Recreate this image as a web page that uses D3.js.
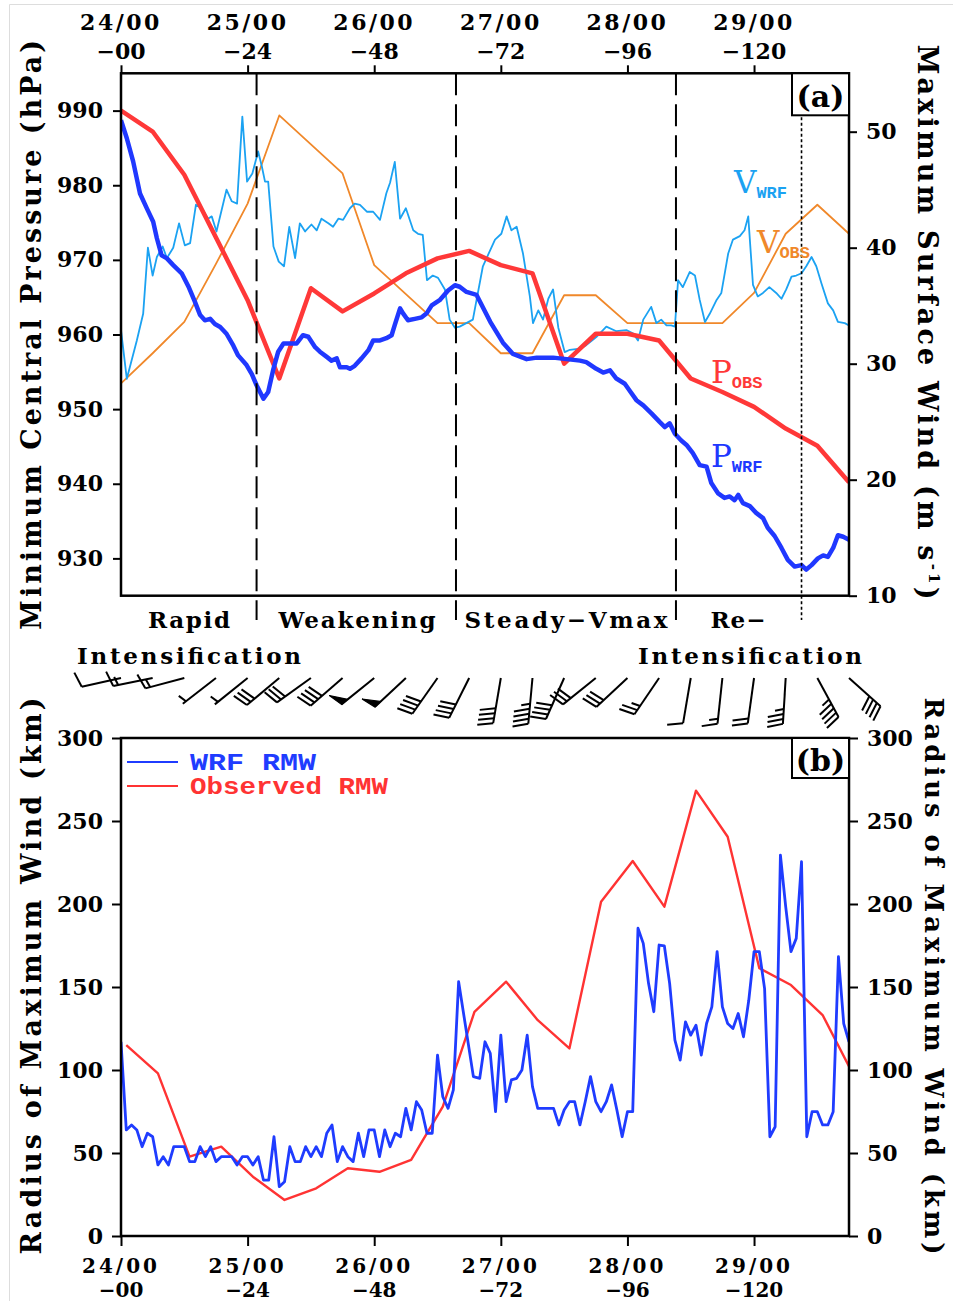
<!DOCTYPE html>
<html><head><meta charset="utf-8">
<script src="https://cdn.jsdelivr.net/npm/d3@7"></script>
<style>
body{margin:0;background:#fff}
svg{display:block}
</style></head><body>
<svg id="c" width="953" height="1301"></svg>
<script>
// ---------------- DATA ----------------
const tickHours   = [0,24,48,72,96,120];
const dateLabels  = ["24/00","25/00","26/00","27/00","28/00","29/00"];
const leadLabels  = ["\u221200","\u221224","\u221248","\u221272","\u221296","\u2212120"];
const pTicks = [930,940,950,960,970,980,990];
const vTicks = [10,20,30,40,50];
const rTicks = [0,50,100,150,200,250,300];
const phaseBounds = [25.7,63.5,105.2];
const reIntensHour = 129;

// 6-hourly observations (panel a)
const obsHours = [0,6,12,18,24,30,36,42,48,54,60,66,72,78,84,90,96,102,108,114,120,126,132,138];
const pObs = [990,987.2,981.4,973,964.6,954.1,966.2,963.1,965.5,968.2,970.2,971.2,969.3,968.2,956.1,960.1,960.1,959.2,954.1,952.3,950.3,947.4,945.1,940.2];
const vObs = [28.3,30.9,33.6,38.6,43.8,51.4,48.9,46.4,38.5,36,33.5,33.5,30.9,30.9,35.9,35.9,33.5,33.5,33.5,33.5,36.1,41.2,43.7,41.2];

// WRF minimum central pressure [hour, hPa]
const pWrf = [[0,988.7],[1.1,986.3],[2.3,983.2],[3.6,978.9],[4.9,976.9],[6.1,975.1],[6.8,972.9],[7.7,970.6],[8.7,970.2],[9.9,969.3],[11.5,968.2],[12.8,966.4],[14,964.4],[15,962.6],[15.9,961.9],[16.9,962.1],[17.8,961.4],[18.8,961],[20,960.1],[21.3,958.5],[22.2,957.2],[23.8,955.9],[24.8,954.7],[25.7,953.2],[27,951.4],[27.9,952.3],[28.9,955.4],[29.8,957.7],[30.8,958.8],[32,958.8],[33.3,958.8],[34.5,959.9],[35.5,959.7],[36.8,958.3],[37.7,957.7],[39,957],[39.9,956.5],[40.9,956.8],[41.5,955.6],[42.8,955.6],[43.4,955.4],[44.3,955.8],[45.6,956.8],[46.9,957.9],[47.8,959.2],[49.1,959.2],[50.3,959.5],[51.3,959.9],[51.9,961.3],[52.9,963.5],[53.5,962.8],[54.4,961.9],[55.7,962.1],[57,962.3],[57.9,962.8],[58.9,963.9],[60.4,964.6],[62,965.9],[63.3,966.6],[64.2,966.4],[65.5,965.7],[67.4,965.3],[70,961.7],[72.4,958.9],[74.3,957.4],[76.9,956.7],[78.8,956.9],[81.9,956.9],[84.5,956.7],[87,956.5],[88.2,956.3],[90.1,955.4],[91.4,954.9],[92.7,955.2],[93.9,954.1],[95.5,953.4],[96.4,952.5],[97.7,951.2],[99,950.5],[100.6,949.4],[102.1,948.3],[103.1,947.6],[104,948.1],[105,946.7],[106.2,945.8],[107.2,945.2],[108.4,944.1],[109.7,942.5],[111,942.3],[111.9,940.1],[113.2,938.7],[114.4,938.1],[115.4,938.3],[116.3,937.8],[117,938.5],[117.9,937.4],[119.2,937],[120.4,936.1],[121.7,935.4],[122.6,934.1],[123.9,933],[125.2,931.4],[126.4,929.8],[127.7,928.9],[129,929.1],[129.9,928.5],[130.9,929.1],[132.1,930],[133.1,930.4],[134,930.2],[135,931.4],[135.9,933.1],[136.9,932.9],[138,932.5]];

// WRF maximum surface wind [hour, m/s]
const vWrf = [[0,32.9],[1.1,28.7],[3,32],[4.2,34.3],[5.1,40],[6,37.6],[6.8,39.2],[7.9,40.1],[8.7,39.1],[9.9,40],[11,42.1],[12.1,40.2],[13.1,40.4],[14.2,43.7],[15.3,43.4],[16.5,42.5],[17.2,42.7],[18.1,41.4],[20,45],[21,44],[22,43.8],[23,51.3],[23.9,45.7],[24.9,46.4],[26,48.3],[26.7,47],[27.3,45.7],[27.9,45.7],[28.9,40.1],[29.9,38.8],[30.9,38.4],[31.9,41.8],[33,39.1],[33.9,42.1],[34.9,41.4],[36.1,42],[37.1,41.5],[38,42.5],[39.3,42.1],[40.2,41.8],[41.2,42.5],[42.1,42.4],[43.4,43.4],[44.3,43.8],[45.3,43.7],[46.6,43.1],[47.8,43.1],[49.1,42.4],[50.3,44.7],[51,45.6],[51.9,47.4],[52.9,42.5],[54,43.4],[55.4,41.5],[56.3,41.2],[57.2,41.1],[58,37.2],[59.1,37.6],[60.1,37.4],[61.4,36.4],[62.3,33.8],[63.3,33.1],[64.2,33.2],[66.7,33.8],[68.6,38.4],[70.9,40.7],[72.1,41.2],[73.1,42.7],[74,41.5],[75,41.8],[76.2,39.5],[77.5,35.8],[78.1,33.5],[79.1,34.6],[80,33.8],[81,35.6],[81.9,36.4],[82.9,33.1],[84.1,31],[85.1,31.2],[87,31.3],[88.2,31.6],[90.1,32.3],[92,33.2],[93.9,32.8],[95.8,32.9],[97.1,32.6],[98,32],[99,33.8],[100.5,34.9],[101.5,33.5],[102.4,33.8],[103.4,33.3],[104.3,33.3],[105,33.2],[105.6,37.2],[106.5,36.6],[107.8,37.9],[108.8,37.6],[109.7,35.5],[110.7,33.6],[111.6,34.3],[112.9,35.5],[113.8,36.1],[115.1,39.5],[116,40.7],[117.3,41],[118.2,41.5],[118.9,42.7],[119.8,36.8],[120.7,35.8],[121.7,36.1],[122.9,36.6],[124.2,36.1],[125.2,35.6],[126.1,36.4],[127.1,37.5],[128,37.6],[129,37.8],[129.9,38.4],[130.9,39.2],[131.8,38.4],[132.8,36.9],[134,35.2],[135,34.6],[135.9,33.6],[137.2,33.5],[138,33.3]];

// Panel b: radius of maximum wind
const rmwWrf = [[0,117],[1,63.9],[2,66.9],[3,63.9],[4,53.8],[5,61.9],[6,59.8],[7,42.8],[8,47.8],[9,42.8],[10,53.8],[12,53.8],[13,44.8],[14,44.8],[15,53.8],[16,47.8],[17,53.8],[18,44.8],[19,47.8],[21,47.8],[22,42.8],[23,47.8],[24,47.8],[25,42.8],[26,47.8],[27,33.7],[28,33.7],[29,59.8],[30,29.7],[31,32.7],[32,53.8],[33,44.8],[34,44.8],[35,53.8],[36,47.8],[37,53.8],[38,47.8],[39,61.9],[40,66.9],[41,44.8],[42,53.8],[43,47.8],[44,44.8],[45,61.9],[46,47.8],[47,63.9],[48,63.9],[49,47.8],[50,63.9],[51,53.8],[52,61.9],[53,59.8],[54,76.9],[55,63.9],[56,80.9],[57,75.9],[58,61.9],[59,61.9],[60,109],[61,83.9],[62,76.9],[63,88],[64,153.2],[66.8,96],[68,95],[69,117],[70,110],[71,74.9],[72,121],[73,80.9],[74,94],[75,95],[76,100],[77,121],[78,90],[79,76.9],[80,76.9],[81,76.9],[82,76.9],[83,66.9],[84,75.9],[85,80.9],[86,80.9],[87,66.9],[88,80.9],[89,96],[90,80.9],[91,74.9],[92,80.9],[93,91],[94,75.9],[95,59.8],[96,74.9],[97,74.9],[98,185.4],[99,176.3],[100,152.2],[101,135.1],[102,175.3],[103,174.7],[104,152.2],[105,118],[106,106],[107,129],[108,121],[109,127],[110,109],[111,128],[112,138],[113,171.3],[114,138],[115,128],[116,125],[117,134],[118,120],[119,142],[120,171.3],[121,171.3],[122,149],[123,59.8],[124,65.8],[125,229.5],[126,198.4],[127,171.3],[128,179.3],[129,225.5],[130,59.8],[131,74.9],[132,74.9],[133,66.9],[134,66.9],[135,74.9],[136,168.3],[137,128],[138,117]];
const rmwObsHours = [1,7,13,19,25,31,37,43,49,55,61,67,73,79,85,91,97,103,109,115,121,127,133,139];
const rmwObs = [115,98,47.8,53.8,35.7,21.7,28.7,40.8,38.7,45.8,77.9,135,153.2,130,113,201.4,225.9,198.4,268.3,240.5,161.3,151.2,133.1,96];

// wind barbs (6-hourly): direction wind comes from (deg), speed (kt)
const barbHours = [0,6,12,18,24,30,36,42,48,54,60,66,72,78,84,90,96,102,108,114,120,126,132,138];
const barbDir = [259,260,257,236,235,234,238,233,235,231,219,210,191,186,207,235,231,218,191,187,189,184,148,128];
const barbSpd = [10,15,15,5,5,30,30,40,50,50,40,40,40,45,40,30,30,25,10,15,20,35,45,40];

const phaseTop = ["Rapid","Weakening","Steady\u2212Vmax","Re\u2212"];
const phaseBottom = ["Intensification","Intensification"];

// ---------------- CHART ----------------
const SERIF = "DejaVu Serif";
const MONO = "Liberation Mono";
const svg = d3.select("#c");

// faint outer border of the original figure
svg.append("line").attr("x1",9.5).attr("x2",953).attr("y1",4.5).attr("y2",4.5).attr("stroke","#ddd");
svg.append("line").attr("x1",9.5).attr("x2",9.5).attr("y1",4.5).attr("y2",1301).attr("stroke","#ddd");

const x  = d3.scaleLinear().domain([0,138]).range([121,849]);
const yP = d3.scaleLinear().domain([925,995]).range([595.7,73.3]);
const yV = d3.scaleLinear().domain([10,55]).range([595.7,73.7]);
const yR = d3.scaleLinear().domain([0,300]).range([1236,738]);

const defs = svg.append("defs");
defs.append("clipPath").attr("id","clipA").append("rect")
  .attr("x",x(0)).attr("y",yP(995)).attr("width",x(138)-x(0)).attr("height",yP(925)-yP(995));
defs.append("clipPath").attr("id","clipB").append("rect")
  .attr("x",x(0)).attr("y",yR(300)).attr("width",x(138)-x(0)).attr("height",yR(0)-yR(300));

const zip = (h,v) => h.map((t,i)=>[t,v[i]]);

// ---- Panel (a) ----
const gA = svg.append("g").attr("clip-path","url(#clipA)");
const lineP = d3.line().x(d=>x(d[0])).y(d=>yP(d[1]));
const lineV = d3.line().x(d=>x(d[0])).y(d=>yV(d[1]));

gA.append("path").datum(zip(obsHours,vObs)).attr("d",lineV)
  .attr("fill","none").attr("stroke","#f0882a").attr("stroke-width",1.8).attr("stroke-linejoin","round");
gA.append("path").datum(vWrf).attr("d",lineV)
  .attr("fill","none").attr("stroke","#1ba2f2").attr("stroke-width",1.8).attr("stroke-linejoin","round");
gA.append("path").datum(zip(obsHours,pObs)).attr("d",lineP)
  .attr("fill","none").attr("stroke","#ff3838").attr("stroke-width",4.5).attr("stroke-linejoin","round");
gA.append("path").datum(pWrf).attr("d",lineP)
  .attr("fill","none").attr("stroke","#2038ff").attr("stroke-width",4.5).attr("stroke-linejoin","round");

// phase separators
svg.selectAll(".phase").data(phaseBounds).join("line")
  .attr("x1",d=>x(d)).attr("x2",d=>x(d)).attr("y1",yP(995)).attr("y2",620)
  .attr("stroke","#000").attr("stroke-width",2).attr("stroke-dasharray","22,9");
svg.append("line").attr("x1",x(reIntensHour)).attr("x2",x(reIntensHour))
  .attr("y1",yP(995)).attr("y2",620).attr("stroke","#000").attr("stroke-width",1.6).attr("stroke-dasharray","3,2.5");

// frame a
svg.append("rect").attr("x",x(0)).attr("y",yP(995)).attr("width",x(138)-x(0)).attr("height",yP(925)-yP(995))
  .attr("fill","none").attr("stroke","#000").attr("stroke-width",2.5);

function styleAxis(g){
  g.select(".domain").remove();
  g.attr("font-family",SERIF).attr("font-size",22).attr("font-weight","bold");
  g.selectAll(".tick line").attr("stroke","#000").attr("stroke-width",2);
  g.selectAll(".tick text").attr("fill","#000");
}
svg.append("g").attr("transform",`translate(${x(0)},0)`)
  .call(d3.axisLeft(yP).tickValues(pTicks).tickSize(8).tickPadding(10).tickFormat(d3.format("d"))).call(styleAxis);
svg.append("g").attr("transform",`translate(${x(138)},0)`)
  .call(d3.axisRight(yV).tickValues(vTicks).tickSize(8).tickPadding(9).tickFormat(d3.format("d"))).call(styleAxis);
svg.append("g").attr("transform",`translate(0,${yP(995)})`)
  .call(d3.axisTop(x).tickValues(tickHours).tickSize(8).tickFormat("")).call(styleAxis);

// top time labels
const topLab = svg.append("g").attr("font-family",SERIF).attr("font-weight","bold").attr("font-size",22).attr("text-anchor","middle");
topLab.selectAll(".d").data(tickHours).join("text").attr("x",d=>x(d)).attr("y",30)
  .attr("letter-spacing",2.5).text((d,i)=>dateLabels[i]);
topLab.selectAll(".l").data(tickHours).join("text").attr("x",d=>x(d)).attr("y",59).text((d,i)=>leadLabels[i]);

// axis titles a
svg.append("text").attr("transform","translate(41,335) rotate(-90)")
  .attr("text-anchor","middle").attr("font-family",SERIF).attr("font-weight","bold").attr("font-size",27)
  .attr("textLength",590).attr("lengthAdjust","spacing").text("Minimum Central Pressure (hPa)");
const rt = svg.append("text").attr("transform","translate(918,322) rotate(90)")
  .attr("text-anchor","middle").attr("font-family",SERIF).attr("font-weight","bold").attr("font-size",27)
  .attr("textLength",555).attr("lengthAdjust","spacing");
rt.append("tspan").text("Maximum Surface Wind (m s");
rt.append("tspan").attr("font-size",15).attr("dy",-11).text("-1");
rt.append("tspan").attr("dy",11).text(")");

// (a) box
svg.append("rect").attr("x",792).attr("y",yP(995)).attr("width",x(138)-792).attr("height",42)
  .attr("fill","#fff").attr("stroke","#000").attr("stroke-width",2);
svg.append("text").attr("x",820.5).attr("y",107).attr("text-anchor","middle").attr("font-family",SERIF)
  .attr("font-size",30).attr("font-weight","bold").text("(a)");

// series labels
function seriesLabel(main, sub, xx, yy, col){
  const t = svg.append("text").attr("x",xx).attr("y",yy).attr("fill",col).attr("font-family",SERIF).attr("font-size",31);
  t.append("tspan").text(main);
  t.append("tspan").attr("font-family",MONO).attr("font-weight","bold").attr("font-size",17).attr("dy",5).text(sub);
}
seriesLabel("V","WRF",734,193,"#1ba2f2");
seriesLabel("V","OBS",757,253,"#f0882a");
seriesLabel("P","OBS",711,383,"#ff3838");
seriesLabel("P","WRF",711,467,"#2038ff");

// phase labels
const phaseX = [189,357,566,738];
const phaseW = [82,157,203,55];
svg.selectAll(".pt").data(phaseTop).join("text").attr("x",(d,i)=>phaseX[i]).attr("y",628)
  .attr("text-anchor","middle").attr("font-family",SERIF).attr("font-weight","bold").attr("font-size",23)
  .attr("textLength",(d,i)=>phaseW[i]).attr("lengthAdjust","spacing").text(d=>d);
const intX = [189,750];
svg.selectAll(".pb").data(phaseBottom).join("text").attr("x",(d,i)=>intX[i]).attr("y",664)
  .attr("text-anchor","middle").attr("font-family",SERIF).attr("font-weight","bold").attr("font-size",23)
  .attr("textLength",224).attr("lengthAdjust","spacing").text(d=>d);

// ---- wind barbs ----
const gBarb = svg.append("g").attr("stroke","#000").attr("stroke-width",2).attr("fill","#000").attr("stroke-linecap","butt");
const barbY = 678, L = 40, K = 1.15;
barbHours.forEach((h,i)=>{
  const x0 = x(h), y0 = barbY;
  const r = barbDir[i]*Math.PI/180;
  const vx = L*Math.sin(r), vy = -L*Math.cos(r)*K;
  const len = Math.hypot(vx,vy);
  const sx = vx/len, sy = vy/len;
  const tx = x0+vx, ty = y0+vy;
  const fa = Math.atan2(sy,sx) + 75*Math.PI/180;
  const fx = Math.cos(fa), fy = Math.sin(fa);
  let spd = barbSpd[i];
  const n50 = Math.floor(spd/50); spd -= n50*50;
  const n10 = Math.floor(spd/10); spd -= n10*10;
  const n5 = spd>=5 ? 1 : 0;
  gBarb.append("line").attr("x1",x0).attr("y1",y0).attr("x2",tx).attr("y2",ty);
  let pos = 0;
  const pt = p => [tx - sx*p, ty - sy*p];
  for(let k=0;k<n50;k++){
    const a = pt(pos), b = pt(pos+8);
    const c = [a[0]+fx*15, a[1]+fy*15];
    gBarb.append("path").attr("d",`M${a}L${c}L${b}Z`).attr("stroke-width",1.2);
    pos += 10;
  }
  for(let k=0;k<n10;k++){
    const a = pt(pos);
    gBarb.append("line").attr("x1",a[0]).attr("y1",a[1]).attr("x2",a[0]+fx*16).attr("y2",a[1]+fy*16);
    pos += 5;
  }
  if(n5){
    if(n50+n10===0) pos = 4;
    const a = pt(pos);
    gBarb.append("line").attr("x1",a[0]).attr("y1",a[1]).attr("x2",a[0]+fx*9).attr("y2",a[1]+fy*9);
  }
});

// ---- Panel (b) ----
const gB = svg.append("g").attr("clip-path","url(#clipB)");
const lineR = d3.line().x(d=>x(d[0])).y(d=>yR(d[1]));
gB.append("path").datum(zip(rmwObsHours,rmwObs)).attr("d",lineR)
  .attr("fill","none").attr("stroke","#ff3333").attr("stroke-width",2.4).attr("stroke-linejoin","round");
gB.append("path").datum(rmwWrf).attr("d",lineR)
  .attr("fill","none").attr("stroke","#1f3cff").attr("stroke-width",2.8).attr("stroke-linejoin","round");

svg.append("rect").attr("x",x(0)).attr("y",yR(300)).attr("width",x(138)-x(0)).attr("height",yR(0)-yR(300))
  .attr("fill","none").attr("stroke","#000").attr("stroke-width",2.5);

svg.append("g").attr("transform",`translate(${x(0)},0)`)
  .call(d3.axisLeft(yR).tickValues(rTicks).tickSize(9).tickPadding(9).tickFormat(d3.format("d"))).call(styleAxis);
svg.append("g").attr("transform",`translate(${x(138)},0)`)
  .call(d3.axisRight(yR).tickValues(rTicks).tickSize(9).tickPadding(9).tickFormat(d3.format("d"))).call(styleAxis);
svg.append("g").attr("transform",`translate(0,${yR(0)})`)
  .call(d3.axisBottom(x).tickValues(tickHours).tickSize(10).tickFormat("")).call(styleAxis);

const botLab = svg.append("g").attr("font-family",SERIF).attr("font-weight","bold").attr("font-size",20).attr("text-anchor","middle");
botLab.selectAll(".d").data(tickHours).join("text").attr("x",d=>x(d)).attr("y",1273)
  .attr("letter-spacing",3).text((d,i)=>dateLabels[i]);
botLab.selectAll(".l").data(tickHours).join("text").attr("x",d=>x(d)).attr("y",1297).text((d,i)=>leadLabels[i]);

svg.append("text").attr("transform","translate(41,976) rotate(-90)")
  .attr("text-anchor","middle").attr("font-family",SERIF).attr("font-weight","bold").attr("font-size",27)
  .attr("textLength",557).attr("lengthAdjust","spacing").text("Radius of Maximum Wind (km)");
svg.append("text").attr("transform","translate(925,976) rotate(90)")
  .attr("text-anchor","middle").attr("font-family",SERIF).attr("font-weight","bold").attr("font-size",26)
  .attr("textLength",557).attr("lengthAdjust","spacing").text("Radius of Maximum Wind (km)");

// (b) box
svg.append("rect").attr("x",792).attr("y",yR(300)).attr("width",x(138)-792).attr("height",40)
  .attr("fill","#fff").attr("stroke","#000").attr("stroke-width",2);
svg.append("text").attr("x",820.5).attr("y",771).attr("text-anchor","middle").attr("font-family",SERIF)
  .attr("font-size",30).attr("font-weight","bold").text("(b)");

// legend b
const legItems = [{name:"WRF RMW",col:"#1f3cff",len:126},{name:"Observed RMW",col:"#ff3333",len:198}];
const legY = [762,786];
legItems.forEach((d,i)=>{
  svg.append("line").attr("x1",127).attr("x2",178).attr("y1",legY[i]).attr("y2",legY[i]).attr("stroke",d.col).attr("stroke-width",2);
  svg.append("text").attr("x",190).attr("y",legY[i]+8).attr("fill",d.col).attr("font-family",MONO)
    .attr("font-weight","bold").attr("font-size",23).attr("textLength",d.len).attr("lengthAdjust","spacingAndGlyphs").text(d.name);
});
</script>
</body></html>
